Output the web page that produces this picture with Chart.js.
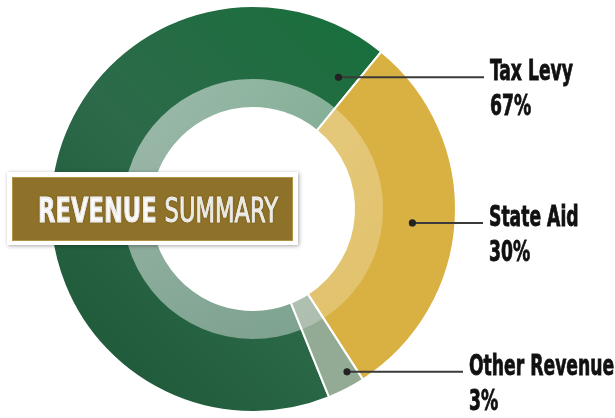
<!DOCTYPE html>
<html><head><meta charset="utf-8">
<script src="https://cdn.jsdelivr.net/npm/chart.js@4.4.1/dist/chart.umd.min.js"></script>
<style>html,body{margin:0;padding:0;background:#fff;}#wrap{width:615px;height:418px;position:relative;}</style>
</head><body><div id="wrap"><canvas id="c" width="615" height="418"></canvas></div>
<script>
// ---- data ----
const categories = ['Tax Levy', 'State Aid', 'Other Revenue'];
const percentValues = [67, 30, 3];
const valueLabels = ['67%', '30%', '3%'];
const titleBold = 'REVENUE';
const titleLight = 'SUMMARY';

// ---- styles ----
const segmentColors = ['gradient', '#d9b143', '#93aa95'];
const bandAlpha = [0.46, 0.30, 0.32];
const labelAngles = [33, 95, 150];      // degrees clockwise from top
const labelRadii = [157, 160, 188];
const labelTextX = [490, 489, 469];
const labelFont = '"Liberation Sans Narrow","DejaVu Sans Condensed","Arial Narrow",sans-serif';

function greenGradient(chart) {
  const a = chart.chartArea;
  if (!a) return '#28684a';
  const g = chart.ctx.createLinearGradient(a.right, a.top, a.left, a.bottom);
  g.addColorStop(0, '#0f723a');
  g.addColorStop(0.25, '#1f6d40');
  g.addColorStop(0.55, '#2c6a4a');
  g.addColorStop(1, '#1b5535');
  return g;
}

function drawText(ctx, txt, x, y, sx, heavy) {
  ctx.save();
  ctx.translate(x, y);
  ctx.scale(sx, 1);
  ctx.fillText(txt, 0, 0);
  if (heavy) { ctx.lineWidth = heavy; ctx.strokeStyle = ctx.fillStyle; ctx.strokeText(txt, 0, 0); }
  ctx.restore();
}

const overlayPlugin = {
  id: 'overlay',
  afterDatasetsDraw(chart) {
    const ctx = chart.ctx;
    const meta = chart.getDatasetMeta(0);
    let cx = 0, cy = 0;
    meta.data.forEach((el, i) => {
      const {x, y, startAngle, endAngle, innerRadius, outerRadius} = el;
      cx = x; cy = y;
      const bw = (outerRadius - innerRadius) * 0.285;
      ctx.save();
      ctx.beginPath();
      ctx.arc(x, y, innerRadius + bw, startAngle, endAngle);
      ctx.arc(x, y, innerRadius, endAngle, startAngle, true);
      ctx.closePath();
      const g = ctx.createLinearGradient(x - innerRadius, y - innerRadius, x + innerRadius, y + innerRadius);
      const al = bandAlpha[i];
      g.addColorStop(0, 'rgba(255,255,255,' + (al + 0.06) + ')');
      g.addColorStop(1, 'rgba(255,255,255,' + (al - 0.08) + ')');
      ctx.fillStyle = g;
      ctx.fill();
      ctx.restore();
    });

    // labels
    ctx.save();
    ctx.font = 'bold 29px ' + labelFont;
    const sx = 83 / ctx.measureText('Tax Levy').width;
    categories.forEach((name, i) => {
      const ang = labelAngles[i] * Math.PI / 180;
      const dx = cx + labelRadii[i] * Math.sin(ang);
      const dy = cy - labelRadii[i] * Math.cos(ang);
      ctx.strokeStyle = '#3a3a3a';
      ctx.lineWidth = 2;
      ctx.beginPath();
      ctx.moveTo(dx, dy);
      ctx.lineTo(labelTextX[i] - 6, dy);
      ctx.stroke();
      ctx.fillStyle = '#222';
      ctx.beginPath();
      ctx.arc(dx, dy, 3.6, 0, Math.PI * 2);
      ctx.fill();
      ctx.fillStyle = '#111';
      ctx.textBaseline = 'alphabetic';
      ctx.font = 'bold 29px ' + labelFont;
      drawText(ctx, name, labelTextX[i], dy + 3, sx, 0.8);
      drawText(ctx, valueLabels[i], labelTextX[i], dy + 38, sx, 0.8);
    });
    ctx.restore();

    // title box
    ctx.save();
    ctx.shadowColor = 'rgba(0,0,0,0.35)';
    ctx.shadowBlur = 4;
    ctx.shadowOffsetX = 1;
    ctx.shadowOffsetY = 1;
    ctx.fillStyle = '#ffffff';
    ctx.fillRect(7, 172, 291, 73);
    ctx.restore();
    ctx.save();
    ctx.fillStyle = '#8f7229';
    ctx.fillRect(12, 177, 281, 64);
    ctx.strokeStyle = 'rgba(200,170,90,0.6)';
    ctx.lineWidth = 1;
    ctx.strokeRect(12.5, 177.5, 280, 63);
    const fs = 33;
    const fB = 'bold ' + fs + 'px ' + labelFont;
    const fL = fs + 'px ' + labelFont;
    ctx.font = fB;
    const wB = ctx.measureText(titleBold + ' ').width;
    ctx.font = fL;
    const wL = ctx.measureText(titleLight).width;
    const tsx = 240 / (wB + wL);
    ctx.translate(38, 222);
    ctx.scale(tsx, 1);
    ctx.fillStyle = '#ffffff';
    ctx.shadowColor = 'rgba(60,40,0,0.5)';
    ctx.shadowBlur = 1.5;
    ctx.lineWidth = 0.8; ctx.strokeStyle = '#fff';
    ctx.font = fB;
    ctx.fillText(titleBold + ' ', 0, 0);
    ctx.strokeText(titleBold, 0, 0);
    ctx.font = fL;
    ctx.fillText(titleLight, wB, 0);
    ctx.strokeText(titleLight, wB, 0);
    ctx.restore();
  }
};

new Chart(document.getElementById('c'), {
  type: 'doughnut',
  data: {
    labels: categories,
    datasets: [{
      data: percentValues,
      backgroundColor: (c) => segmentColors[c.dataIndex] === 'gradient' ? greenGradient(c.chart) : segmentColors[c.dataIndex],
      borderColor: '#ffffff',
      borderWidth: 2,
      hoverBorderWidth: 2,
      hoverOffset: 0
    }]
  },
  options: {
    responsive: false,
    animation: false,
    events: [],
    rotation: 158,
    cutout: '49.75%',
    layout: {padding: {left: 49, right: 158, top: 5, bottom: 5}},
    plugins: {legend: {display: false}, tooltip: {enabled: false}}
  },
  plugins: [overlayPlugin]
});
</script>
</body></html>
